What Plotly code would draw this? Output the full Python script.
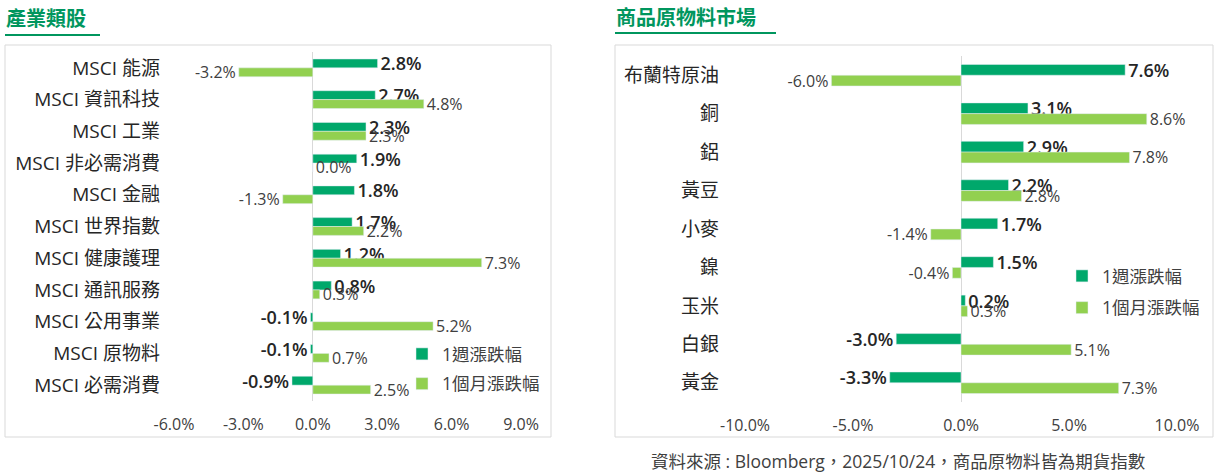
import plotly.graph_objects as go

# 產業類股
sector_names = ["MSCI 能源", "MSCI 資訊科技", "MSCI 工業", "MSCI 非必需消費", "MSCI 金融",
                "MSCI 世界指數", "MSCI 健康護理", "MSCI 通訊服務", "MSCI 公用事業",
                "MSCI 原物料", "MSCI 必需消費"]
sector_week = [2.8, 2.7, 2.3, 1.9, 1.8, 1.7, 1.2, 0.8, -0.1, -0.1, -0.9]
sector_month = [-3.2, 4.8, 2.3, 0.0, -1.3, 2.2, 7.3, 0.3, 5.2, 0.7, 2.5]
sector_ticks = [-6, -3, 0, 3, 6, 9]

# 商品原物料市場
commodity_names = ["布蘭特原油", "銅", "鋁", "黃豆", "小麥", "鎳", "玉米", "白銀", "黃金"]
commodity_week = [7.6, 3.1, 2.9, 2.2, 1.7, 1.5, 0.2, -3.0, -3.3]
commodity_month = [-6.0, 8.6, 7.8, 2.8, -1.4, -0.4, 0.3, 5.1, 7.3]
commodity_ticks = [-10, -5, 0, 5, 10]

W, H = 1217, 473
DARK = "#00A86B"
LIGHT = "#92D050"
TITLE_GREEN = "#00965E"
FONT = "Open Sans, Noto Sans CJK TC, sans-serif"


def px_x(x):
    return x / W


def px_y(y):
    return 1 - y / H


def pct(vals):
    return [f"{v:.1f}%" for v in vals]


fig = go.Figure()


def add_pair(names, week, month, xa, ya, legend):
    fig.add_trace(go.Bar(
        y=names, x=week, orientation="h", name="1週漲跌幅",
        marker_color=DARK, xaxis=xa, yaxis=ya, legend=legend, legendgroup=legend + "w",
        text=pct(week), textposition="outside", textangle=0,
        textfont=dict(size=18, color="#262626", family=FONT, weight=600),
        cliponaxis=False, constraintext="none", hoverinfo="x+y",
    ))
    fig.add_trace(go.Bar(
        y=names, x=month, orientation="h", name="1個月漲跌幅",
        marker_color=LIGHT, xaxis=xa, yaxis=ya, legend=legend, legendgroup=legend + "m",
        text=pct(month), textposition="outside", textangle=0,
        textfont=dict(size=16, color="#404040", family=FONT),
        cliponaxis=False, constraintext="none", hoverinfo="x+y",
    ))


add_pair(sector_names, sector_week, sector_month, "x", "y", "legend")
add_pair(commodity_names, commodity_week, commodity_month, "x2", "y2", "legend2")

xcommon = dict(showgrid=False, zeroline=True, zerolinecolor="#D9D9D9", zerolinewidth=1,
               showline=False, ticklabelstandoff=12, automargin=False, tickmode="array",
               tickfont=dict(size=16, color="#404040", family=FONT))
ycommon = dict(showgrid=False, zeroline=False, showline=False, autorange="reversed",
               type="category", automargin=False,
               tickfont=dict(size=19, color="#262626", family=FONT))
legend_font = dict(size=17.5, color="#404040", family=FONT)

fig.update_layout(
    width=W, height=H,
    margin=dict(l=0, r=0, t=0, b=0),
    paper_bgcolor="white", plot_bgcolor="white",
    barmode="group", bargap=0.44, bargroupgap=0,
    font=dict(family=FONT),
    xaxis=dict(domain=[px_x(174), px_x(521)], range=[-6, 9], anchor="y",
               tickvals=sector_ticks, ticktext=pct(sector_ticks), **xcommon),
    yaxis=dict(domain=[px_y(401), px_y(52)], anchor="x", ticklabelstandoff=13, **ycommon),
    xaxis2=dict(domain=[px_x(745), px_x(1177)], range=[-10, 10], anchor="y2",
                tickvals=commodity_ticks, ticktext=pct(commodity_ticks), **xcommon),
    yaxis2=dict(domain=[px_y(402), px_y(56)], anchor="x2", ticklabelstandoff=25, **ycommon),
    legend=dict(x=px_x(402), y=px_y(336), xanchor="left", yanchor="top",
                font=legend_font, tracegroupgap=4, itemwidth=30, bgcolor="rgba(0,0,0,0)"),
    legend2=dict(x=px_x(1062), y=px_y(258), xanchor="left", yanchor="top",
                 font=legend_font, tracegroupgap=6, itemwidth=30, bgcolor="rgba(0,0,0,0)"),
    showlegend=True,
)

# panel frames
for x0, x1 in [(5, 551), (615, 1213)]:
    fig.add_shape(type="rect", xref="paper", yref="paper",
                  x0=px_x(x0), x1=px_x(x1), y0=px_y(437), y1=px_y(45),
                  line=dict(color="#D9D9D9", width=1), fillcolor="rgba(0,0,0,0)", layer="below")

# section titles with underline
fig.add_annotation(text="<b>產業類股</b>", xref="paper", yref="paper", x=px_x(4), y=px_y(18),
                   xanchor="left", yanchor="middle", showarrow=False,
                   font=dict(size=20, color=TITLE_GREEN, family="Noto Sans CJK TC"))
fig.add_shape(type="line", xref="paper", yref="paper", x0=px_x(5), x1=px_x(100),
              y0=px_y(35), y1=px_y(35), line=dict(color=TITLE_GREEN, width=2))
fig.add_annotation(text="<b>商品原物料市場</b>", xref="paper", yref="paper", x=px_x(614), y=px_y(16),
                   xanchor="left", yanchor="middle", showarrow=False,
                   font=dict(size=20, color=TITLE_GREEN, family="Noto Sans CJK TC"))
fig.add_shape(type="line", xref="paper", yref="paper", x0=px_x(615), x1=px_x(776),
              y0=px_y(33), y1=px_y(33), line=dict(color=TITLE_GREEN, width=2))

fig.add_annotation(text="資料來源 : Bloomberg，2025/10/24，商品原物料皆為期貨指數",
                   xref="paper", yref="paper", x=px_x(898), y=px_y(461),
                   xanchor="center", yanchor="middle", showarrow=False,
                   font=dict(size=17.5, color="#404040", family=FONT))

fig.write_html("out.html", config={"displayModeBar": False},
               post_script="document.body.style.margin='0';document.body.style.overflow='hidden';")
